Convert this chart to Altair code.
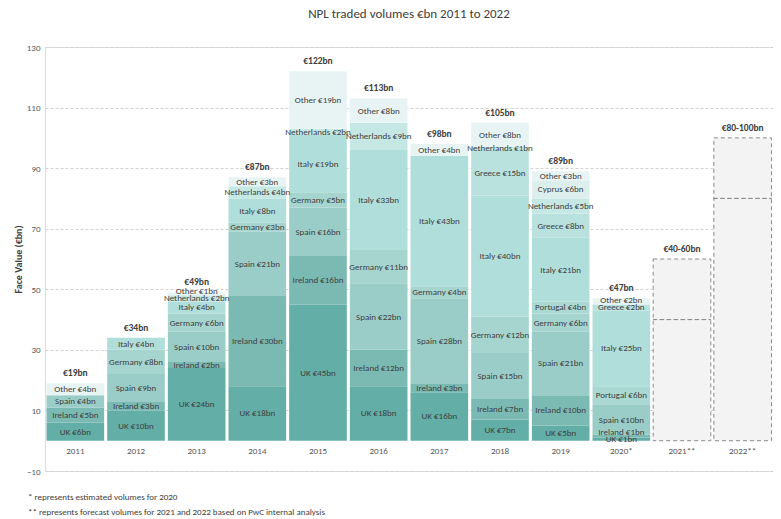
import altair as alt
import pandas as pd

# ---------------- data ----------------
years = ["2011", "2012", "2013", "2014", "2015", "2016", "2017", "2018", "2019", "2020*"]
countries = ["UK", "Ireland", "Spain", "Germany", "Portugal", "Italy", "Greece",
             "Netherlands", "Cyprus", "Other"]
country_colors = ["#63aea6", "#7bbab3", "#9acdc7", "#a6d5d0", "#aad9d4", "#b0deda",
                  "#b9e2de", "#c6e8e5", "#dcefed", "#e8f4f4"]

uk          = [6, 10, 24, 18, 45, 18, 16, 7, 5, 1]
ireland     = [5, 3, 2, 30, 16, 12, 3, 7, 10, 1]
spain       = [4, 9, 10, 21, 16, 22, 28, 15, 21, 10]
germany     = [0, 8, 6, 3, 5, 11, 4, 12, 6, 0]
portugal    = [0, 0, 0, 0, 0, 0, 0, 0, 4, 6]
italy       = [0, 4, 4, 8, 19, 33, 43, 40, 21, 25]
greece      = [0, 0, 0, 0, 0, 0, 0, 15, 8, 2]
netherlands = [0, 0, 2, 4, 2, 9, 0, 1, 5, 0]
cyprus      = [0, 0, 0, 0, 0, 0, 0, 0, 6, 0]
other       = [4, 0, 1, 3, 19, 8, 4, 8, 3, 2]
totals      = [19, 34, 49, 87, 122, 113, 98, 105, 89, 47]

forecast_years = ["2021**", "2022**"]
forecast_low = [40, 80]
forecast_high = [60, 100]
forecast_labels = ["€40-60bn", "€80-100bn"]

all_years = years + forecast_years
y_ticks = [-10, 10, 30, 50, 70, 90, 110, 130]

title_text = "NPL traded volumes €bn 2011 to 2022"
y_title = "Face Value (€bn)"
footnote_1 = "* represents estimated volumes for 2020"
footnote_2 = "** represents forecast volumes for 2021 and 2022 based on PwC internal analysis"

# ---------------- tables ----------------
MIN_GAP = 2.5  # minimum spacing between stacked segment labels (value units)
series = [uk, ireland, spain, germany, portugal, italy, greece, netherlands, cyprus, other]
rows = []
for i, yr in enumerate(years):
    base = 0
    prev = None
    for c, vals in zip(countries, series):
        v = vals[i]
        if v > 0:
            mid = base + v / 2
            ly = mid if prev is None else max(mid, prev + MIN_GAP)
            prev = ly
            rows.append({"year": yr, "country": c, "value": v, "start": base,
                         "end": base + v, "ly": ly, "label": f"{c} €{v}bn"})
            base += v
seg = pd.DataFrame(rows)
tot = pd.DataFrame({"year": years, "total": totals,
                    "label": [f"€{t}bn" for t in totals]})
fc = pd.DataFrame({"year": forecast_years, "low": forecast_low, "high": forecast_high,
                   "zero": [0, 0], "label": forecast_labels})
xl = pd.DataFrame({"year": all_years, "pos": [-3.5] * len(all_years)})
fn1 = pd.DataFrame({"text": [footnote_1]})
fn2 = pd.DataFrame({"text": [footnote_2]})

FONT = "Carlito, Liberation Sans Narrow, DejaVu Sans Condensed, sans-serif"
TXT = "#404040"

xscale = alt.Scale(domain=all_years, paddingInner=0.05, paddingOuter=0.025)
yscale = alt.Scale(domain=[-10, 130], nice=False, zero=False)
yaxis = alt.Axis(values=y_ticks, title=y_title, grid=True, domain=False,
                 ticks=False, labelFont=FONT, labelFontSize=9,
                 labelColor="#595959", labelPadding=5,
                 gridColor="#d2d2d2", gridDash=[3, 2],
                 titleFont=FONT, titleFontSize=10, titleFontWeight="bold",
                 titleColor=TXT, titlePadding=3)

X = alt.X("year:N", scale=xscale, axis=None)


def Y(field):
    return alt.Y(field, scale=yscale, axis=yaxis, title=y_title)


bars = alt.Chart(seg).mark_bar().encode(
    x=X, y=Y("start:Q"), y2="end:Q",
    color=alt.Color("country:N", scale=alt.Scale(domain=countries, range=country_colors),
                    legend=None),
)

seg_labels = alt.Chart(seg).mark_text(font=FONT, fontSize=9, color=TXT).encode(
    x=X, y=Y("ly:Q"), text="label:N")

tot_labels = alt.Chart(tot).mark_text(font=FONT, fontSize=9.5, fontWeight="bold",
                                      color=TXT, dy=-10).encode(
    x=X, y=Y("total:Q"), text="label:N")

fc_box = alt.Chart(fc).mark_bar(fill="#f3f3f3", stroke="#8c8c8c", strokeWidth=1,
                                strokeDash=[4, 3]).encode(
    x=X, y=Y("zero:Q"), y2="high:Q")

fc_line = alt.Chart(fc).mark_bar(fill="#f3f3f3", fillOpacity=0, stroke="#8c8c8c",
                                 strokeWidth=1, strokeDash=[4, 3]).encode(
    x=X, y=Y("low:Q"), y2="low:Q")

fc_labels = alt.Chart(fc).mark_text(font=FONT, fontSize=9.5, fontWeight="bold",
                                    color=TXT, dy=-10).encode(
    x=X, y=Y("high:Q"), text="label:N")

x_labels = alt.Chart(xl).mark_text(font=FONT, fontSize=9, color="#595959").encode(
    x=X, y=Y("pos:Q"), text="year:N")

foot1 = alt.Chart(fn1).mark_text(font=FONT, fontSize=9, color=TXT, align="left",
                                 baseline="middle").encode(
    x=alt.value(-17), y=alt.value(450), text="text:N")
foot2 = alt.Chart(fn2).mark_text(font=FONT, fontSize=9, color=TXT, align="left",
                                 baseline="middle").encode(
    x=alt.value(-17), y=alt.value(465), text="text:N")

chart = alt.layer(bars, seg_labels, tot_labels, fc_box, fc_line, fc_labels,
                  x_labels, foot1, foot2).properties(
    width=728, height=424,
    title=alt.TitleParams(title_text, font=FONT, fontSize=13, fontWeight="normal",
                          color=TXT, offset=22, anchor="middle"),
    autosize=alt.AutoSizeParams(type="none"),
    padding={"left": 37, "top": 39, "right": 0, "bottom": 48},
).configure_view(stroke=None).configure(background="white")

chart.save("out.html", embed_options={"renderer": "svg", "actions": False})
